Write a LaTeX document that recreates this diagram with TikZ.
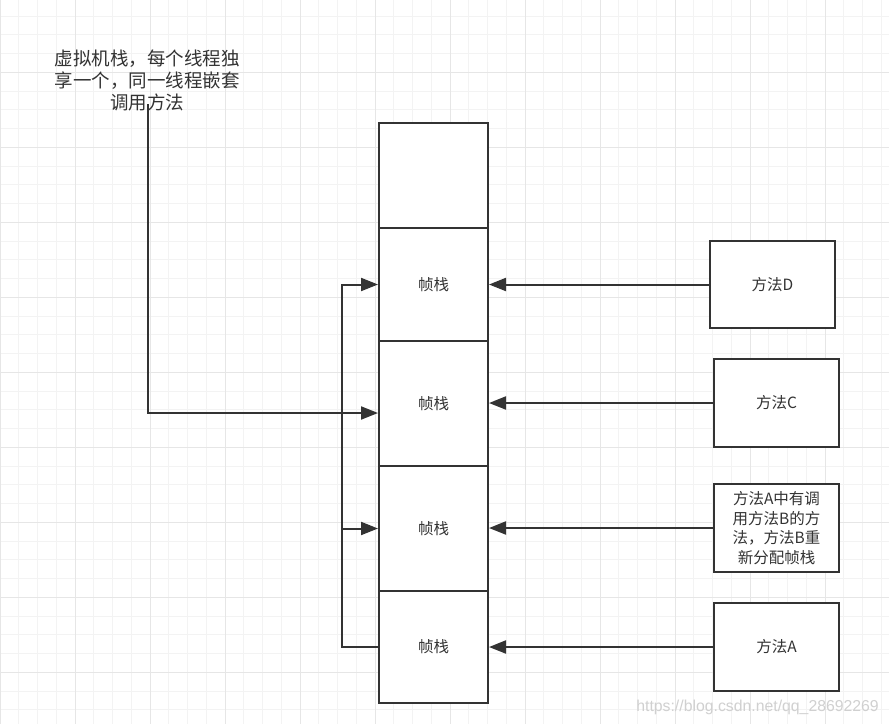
\documentclass[tikz,border=0pt]{standalone}
\usepackage{fontspec}
\setmainfont{Noto Sans CJK SC}
\newfontfamily\wmfont{Liberation Sans}
\usetikzlibrary{arrows.meta}
\definecolor{ink}{HTML}{333333}
\definecolor{gminor}{HTML}{F3F3F3}
\definecolor{gmajor}{HTML}{E6E6E6}
\definecolor{wmc}{HTML}{D0D0D0}
\begin{document}
\begin{tikzpicture}[x=1pt,y=-1pt,
  stackbox/.style={draw=ink,line width=2pt,fill=white,minimum width=109pt,inner sep=0pt,text=ink,font=\fontsize{15.5}{19}\selectfont},
  methodbox/.style={draw=ink,line width=2pt,fill=white,minimum width=125pt,minimum height=88pt,inner sep=0pt,text=ink,align=center,font=\fontsize{15.5}{19.5}\selectfont},
  conn/.style={draw=ink,line width=2pt},
  arr/.style={conn,-{Triangle[length=17pt,width=13pt]}},
  gridminor/.style={draw=gminor,line width=1pt},
  gridmajor/.style={draw=gmajor,line width=1pt}]
\useasboundingbox (0,0) rectangle (889,724);
\fill[white] (0,0) rectangle (889,724);
% grid
\foreach \k in {0,...,47} {\pgfmathsetmacro\xx{18.75*\k}\draw[gridminor] (\xx,0) -- (\xx,724);}
\foreach \k in {0,...,39} {\pgfmathsetmacro\yy{-2.7+18.75*\k}\draw[gridminor] (0,\yy) -- (889,\yy);}
\foreach \k in {0,...,11} {\pgfmathsetmacro\xx{75*\k}\draw[gridmajor] (\xx,0) -- (\xx,724);}
\foreach \k in {0,...,9} {\pgfmathsetmacro\yy{-2.7+75*\k}\draw[gridmajor] (0,\yy) -- (889,\yy);}
% stack
\node[stackbox, minimum height=105pt] (top) at (433.5,175.5) {};
\node[stackbox, minimum height=113pt] (f1) at (433.5,284.5) {帧栈};
\node[stackbox, minimum height=125pt] (f2) at (433.5,403.5) {帧栈};
\node[stackbox, minimum height=125pt] (f3) at (433.5,528.5) {帧栈};
\node[stackbox, minimum height=112pt] (f4) at (433.5,647) {帧栈};
% methods
\node[methodbox, minimum height=87pt] (mD) at (772.5,284.5) {方法D};
\node[methodbox] (mC) at (776.5,403) {方法C};
\node[methodbox] (mB) at (776.5,528) {方法A中有调\\用方法B的方\\法，方法B重\\新分配帧栈};
\node[methodbox] (mA) at (776.5,647) {方法A};
% note
\node[text=ink, align=center, inner sep=0pt, font=\fontsize{18.5}{22}\selectfont] (note) at (147,80) {虚拟机栈，每个线程独\\享一个，同一线程嵌套\\调用方法};
% right arrows
\draw[arr] (mD.west) -- (mD.west -| f1.east);
\draw[arr] (mC.west) -- (mC.west -| f2.east);
\draw[arr] (mB.west) -- (mB.west -| f3.east);
\draw[arr] (mA.west) -- (mA.west -| f4.east);
% left bracket
\coordinate (lb) at (342,647);
\coordinate (lt) at (342,284.5);
\coordinate (lm) at (342,528.5);
\draw[arr] (f4.west) -- (lb) -- (lt) -- (f1.west);
\draw[arr] (lm) -- (lm -| f3.west);
% note connector
\coordinate (ns) at (147.5,104);
\coordinate (nc) at (147.5,413);
\draw[arr] (ns) -- (nc) -- (nc -| f2.west);
% watermark
\node[text=wmc, inner sep=0pt, font=\wmfont\fontsize{15.8}{18}\selectfont, anchor=east] (wm) at (879,707) {https://blog.csdn.net/qq\_28692269};
\end{tikzpicture}
\end{document}
